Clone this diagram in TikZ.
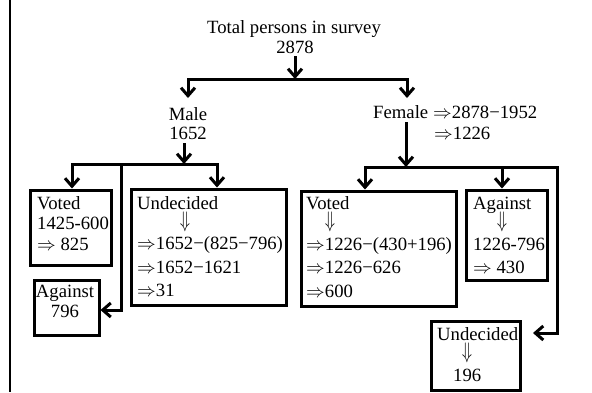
\RequirePackage{fix-cm}
\documentclass[tikz,border=0pt]{standalone}
\usepackage{graphicx}
\usepackage{fontspec}
\setmainfont{Liberation Serif}
\usetikzlibrary{arrows.meta}
\newcommand{\fs}{\fontsize{18.7}{21}\selectfont}
\newcommand{\RA}{$\Rightarrow$}
\newcommand{\DA}{\scalebox{0.9}[1.2]{$\Downarrow$}}
\begin{document}
\begin{tikzpicture}[x=1pt,y=-1pt,
  ln/.style={line width=3pt},
  arr/.style={line width=3pt,-{Straight Barb[length=8pt,width=14pt]}},
  box/.style={draw,line width=3pt,anchor=north west,inner sep=0pt},
  t/.style={anchor=base west,inner sep=0pt,font=\fs},
  tc/.style={anchor=base,inner sep=0pt,font=\fs}]
\useasboundingbox (0,0) rectangle (592,392);
\draw[line width=2pt] (9.5,0) -- (9.5,392);

% boxes
\node[box,minimum width=81pt,minimum height=75pt] (mvoted) at (28.5,188.5) {};
\node[box,minimum width=65pt,minimum height=55pt] (magainst) at (32.5,278.5) {};
\node[box,minimum width=155pt,minimum height=116pt] (mundec) at (129.5,187.5) {};
\node[box,minimum width=155pt,minimum height=115pt] (fvoted) at (299.5,189.5) {};
\node[box,minimum width=81pt,minimum height=90pt] (fagainst) at (464.5,188.5) {};
\node[box,minimum width=89pt,minimum height=69pt] (fundec) at (429.5,319.5) {};

% top texts
\node[tc] (total1) at (294,33) {Total persons in survey};
\node[tc] (total2) at (295,53) {2878};
\node[tc] (male1) at (188,120) {Male};
\node[tc] (male2) at (188,139) {1652};
\node[t] (female) at (373,118) {Female};
\node[t] (fcalc1) at (433,118) {\RA2878−1952};
\node[t] (fcalc2) at (434,139) {\RA1226};

% box texts
\node[t] (mv1) at (37,209) {Voted};
\node[t] (mv2) at (37,229) {1425-600};
\node[t] (mv3) at (37,250) {\RA\ 825};
\node[tc] (ma1) at (65,297) {Against};
\node[tc] (ma2) at (65,317) {796};
\node[t] (mu1) at (137,209) {Undecided};
\node[tc] (mu2) at (185,227) {\DA};
\node[t] (mu3) at (137,249) {\RA1652−(825−796)};
\node[t] (mu4) at (137,273) {\RA1652−1621};
\node[t] (mu5) at (137,296) {\RA31};
\node[t] (fv1) at (306,209) {Voted};
\node[tc] (fv2) at (330,227) {\DA};
\node[t] (fv3) at (306,250) {\RA1226−(430+196)};
\node[t] (fv4) at (306,273) {\RA1226−626};
\node[t] (fv5) at (306,297) {\RA600};
\node[t] (fa1) at (473,209) {Against};
\node[tc] (fa2) at (502,227) {\DA};
\node[t] (fa3) at (473,250) {1226-796};
\node[t] (fa4) at (473,273) {\RA\ 430};
\node[t] (fu1) at (437,340) {Undecided};
\node[tc] (fu2) at (467,358) {\DA};
\node[t] (fu3) at (453,381) {196};

% connector coordinates
\coordinate (tj) at (295,79);
\coordinate (mtop) at (188,98);
\coordinate (ftop) at (407,98);
\coordinate (mj) at (184,164);
\coordinate (mvl) at (72,164);
\coordinate (mur) at (217,164);
\coordinate (mal) at (121,164);
\coordinate (maa) at (121,310);
\coordinate (fj) at (406,167);
\coordinate (fl) at (365,167);
\coordinate (fa) at (502,167);
\coordinate (fu) at (557,333);
\coordinate (fut) at (533,333);

% connectors
\draw[arr] ([yshift=-3pt]total2.south -| tj) -- (tj);
\draw[arr] (tj) -| (mtop);
\draw[arr] (tj) -| (ftop);
\draw[arr] ([yshift=-4pt]mj |- male2.south) -- (mj);
\draw[arr] (mj) -| (mvl |- mvoted.north);
\draw[arr] (mj) -| (mur |- mundec.north);
\draw[arr] (mal) -- (maa) -- (maa -| magainst.east);
\draw[arr] ([yshift=-4pt]fj |- female.south) -- (fj);
\draw[arr] (fj) -| (fl |- fvoted.north);
\draw[arr] (fa) -- (fa |- fagainst.north);
\draw[arr] (fj) -| (fu) -- (fut);
\end{tikzpicture}
\end{document}
